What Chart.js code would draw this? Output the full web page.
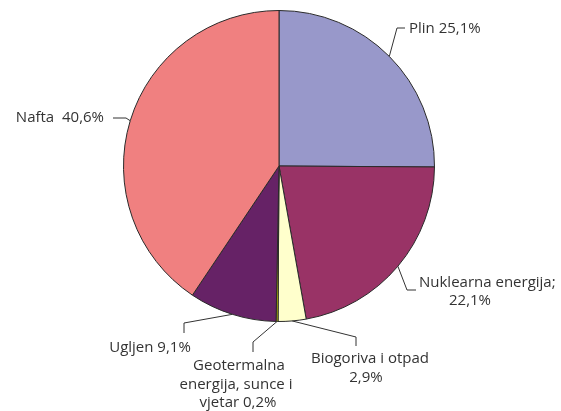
<!DOCTYPE html>
<html>
<head>
<meta charset="utf-8">
<script src="https://cdn.jsdelivr.net/npm/chart.js@4"></script>
<style>
  html, body { margin: 0; padding: 0; background: #ffffff; }
  #wrap { width: 561px; height: 411px; position: relative; }
</style>
</head>
<body>
<div id="wrap"><canvas id="myChart"></canvas></div>
<script>
const labels = ['Plin', 'Nuklearna energija', 'Biogoriva i otpad', 'Geotermalna energija, sunce i vjetar', 'Ugljen', 'Nafta'];
const values = [25.1, 22.1, 2.9, 0.2, 9.1, 40.6];
const valueText = ['25,1%', '22,1%', '2,9%', '0,2%', '9,1%', '40,6%'];
const colors = ['#9898ca', '#993366', '#ffffcc', '#c8c800', '#662266', '#f08080'];

// label text lines per slice
const labelLines = [
  ['Plin ' + valueText[0]],
  ['Nuklearna energija;', valueText[1]],
  ['Biogoriva i otpad', valueText[2]],
  ['Geotermalna', 'energija, sunce i', 'vjetar ' + valueText[3]],
  ['Ugljen ' + valueText[4]],
  ['Nafta  ' + valueText[5]]
];

// leader line elbows and text placement
const leaderStyle = [
  { pts: [[397, 28], [405, 28]], tx: 409, ty: 29, align: 'left' },
  { pts: [[407, 290], [416, 290]], lines: [[419, 283, 'left'], [470, 301, 'center']] },
  { pts: [[356, 337], [356, 346]], lines: [[370, 359, 'center'], [366, 378, 'center']] },
  { pts: [[253, 342], [253, 352]], lines: [[239, 366, 'center'], [236, 385, 'center'], [238, 403, 'center']] },
  { pts: [[184, 323], [184, 333]], tx: 150, ty: 348, align: 'center' },
  { pts: [[126, 118], [113, 118]], tx: 104, ty: 118, align: 'right' }
];

const labelPlugin = {
  id: 'labels',
  afterDraw(chart) {
    const ctx = chart.ctx;
    const meta = chart.getDatasetMeta(0);
    ctx.save();
    ctx.strokeStyle = '#333';
    ctx.lineWidth = 1;
    ctx.fillStyle = '#333';
    ctx.font = '15px "Open Sans"';
    ctx.textBaseline = 'middle';
    meta.data.forEach((arc, i) => {
      const mid = (arc.startAngle + arc.endAngle) / 2;
      const sx = arc.x + Math.cos(mid) * arc.outerRadius;
      const sy = arc.y + Math.sin(mid) * arc.outerRadius;
      const st = leaderStyle[i];
      ctx.beginPath();
      ctx.moveTo(sx, sy);
      st.pts.forEach(p => ctx.lineTo(p[0], p[1]));
      ctx.stroke();
      if (st.lines) {
        st.lines.forEach((l, j) => {
          ctx.textAlign = l[2];
          ctx.fillText(labelLines[i][j], l[0], l[1]);
        });
      } else {
        ctx.textAlign = st.align;
        ctx.fillText(labelLines[i][0], st.tx, st.ty);
      }
    });
    ctx.restore();
  }
};

const ctx = document.getElementById('myChart').getContext('2d');
const myChart = new Chart(ctx, {
  type: 'pie',
  plugins: [labelPlugin],
  data: {
    labels: labels,
    datasets: [{
      data: values,
      backgroundColor: colors,
      borderColor: '#2a2a2a',
      borderWidth: 1
    }]
  },
  options: {
    responsive: true,
    maintainAspectRatio: false,
    animation: false,
    layout: { padding: { top: 10, bottom: 89, left: 123, right: 126 } },
    plugins: {
      legend: { display: false },
      tooltip: { enabled: false }
    }
  }
});
</script>
</body>
</html>
